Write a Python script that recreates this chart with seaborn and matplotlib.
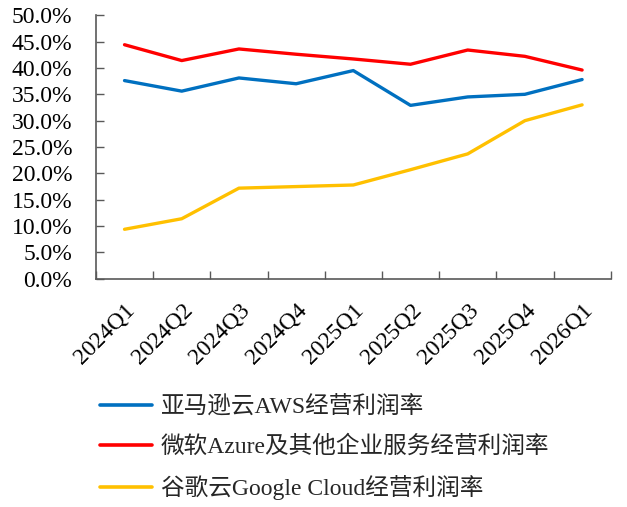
import matplotlib
matplotlib.use("Agg")
import matplotlib.pyplot as plt
import seaborn as sns
import pandas as pd
import numpy as np
from matplotlib.ticker import FuncFormatter, FixedLocator

quarters = ["2024Q1", "2024Q2", "2024Q3", "2024Q4", "2025Q1", "2025Q2", "2025Q3", "2025Q4", "2026Q1"]
aws = [37.6, 35.6, 38.1, 37.0, 39.5, 32.9, 34.5, 35.0, 37.8]
azure = [44.4, 41.4, 43.6, 42.6, 41.7, 40.7, 43.4, 42.2, 39.6]
gcloud = [9.4, 11.4, 17.2, 17.5, 17.8, 20.7, 23.7, 30.0, 33.0]
series_names = ["亚马逊云AWS经营利润率", "微软Azure及其他企业服务经营利润率", "谷歌云Google Cloud经营利润率"]
colors = ["#0070C0", "#FF0000", "#FFC000"]

sns.set_theme(style="white")
plt.rcParams['font.family'] = ['Liberation Serif', 'Noto Sans CJK SC']

df = pd.DataFrame({
    "quarter": quarters * 3,
    "idx": list(range(len(quarters))) * 3,
    "value": aws + azure + gcloud,
    "series": [series_names[0]] * 9 + [series_names[1]] * 9 + [series_names[2]] * 9,
})

fig = plt.figure(figsize=(6.27, 5.07), dpi=100)
ax = fig.add_axes([0.153, 0.450, 0.821, 0.520])
sns.lineplot(data=df, x="idx", y="value", hue="series", palette=colors,
             hue_order=series_names, linewidth=2.4, ax=ax, legend=False)

ax.set_xlim(-0.5, len(quarters) - 0.5)
ax.set_ylim(0, 50)
ax.set_yticks(np.arange(0, 50.1, 5))
ax.yaxis.set_major_formatter(FuncFormatter(lambda v, p: f"{v:.1f}%"))
ax.set_xticks(range(len(quarters)))
ax.set_xticklabels(quarters, rotation=45, ha="right", rotation_mode="anchor")
ax.xaxis.set_minor_locator(FixedLocator(np.arange(-0.5, len(quarters), 1.0)))
ax.tick_params(axis="x", which="major", bottom=True, length=0, pad=15, labelsize=17, colors="black")
ax.tick_params(axis="x", which="minor", bottom=True, length=6, width=1, color="#595959", direction="in")
ax.tick_params(axis="y", which="major", left=True, length=6, width=1, color="#595959", direction="in",
               labelsize=17, pad=17, labelcolor="black")
ax.set_xlabel("")
ax.set_ylabel("")
for s in ["top", "right"]:
    ax.spines[s].set_visible(False)
for s in ["left", "bottom"]:
    ax.spines[s].set_color("#595959")
    ax.spines[s].set_linewidth(1.2)

handles = [plt.Line2D([], [], color=c, linewidth=2.6) for c in colors]
fig.legend(handles, series_names, loc="upper left", bbox_to_anchor=(0.145, 0.237),
           frameon=False, fontsize=17, handlelength=2.2, labelspacing=0.72, handletextpad=0.35,
           borderaxespad=0.0)

fig.savefig("out.png", dpi=100)
